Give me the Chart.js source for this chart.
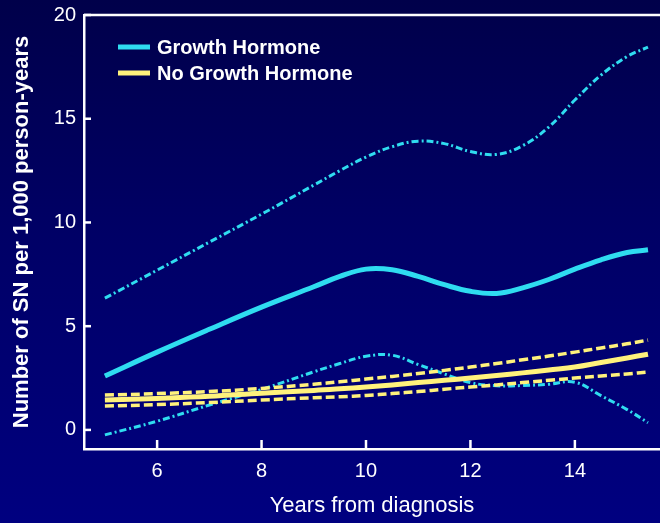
<!DOCTYPE html>
<html>
<head>
<meta charset="utf-8">
<script src="https://cdn.jsdelivr.net/npm/chart.js@4"></script>
<style>
  html, body { margin: 0; padding: 0; }
  body { background: linear-gradient(#00004a, #000066 45%, #000080); }
  #wrap { width: 660px; height: 523px; position: relative; }
</style>
</head>
<body>
<div id="wrap"><canvas id="chart"></canvas></div>
<script>
// years from diagnosis where each curve was sampled
let years = [5, 6, 7, 8, 9, 9.5, 10, 10.5, 11, 11.5, 12, 12.5, 13, 13.5, 14, 14.5, 15, 15.4];

// growth hormone: rate and its confidence band
let ghRate  = [2.6, 3.75, 4.85, 5.92, 6.9, 7.4, 7.75, 7.72, 7.4, 7.0, 6.68, 6.58, 6.85, 7.25, 7.75, 8.2, 8.55, 8.68];
let ghUpper = [6.35, 7.7, 9.05, 10.4, 11.8, 12.5, 13.15, 13.65, 13.92, 13.8, 13.42, 13.28, 13.7, 14.6, 15.9, 17.1, 18.0, 18.45];
let ghLower = [-0.24, 0.42, 1.2, 1.95, 2.8, 3.2, 3.55, 3.6, 3.15, 2.7, 2.28, 2.13, 2.14, 2.2, 2.3, 1.65, 0.98, 0.35];

// no growth hormone
let noRate  = [1.44, 1.52, 1.62, 1.77, 1.9, 1.98, 2.07, 2.17, 2.28, 2.39, 2.5, 2.62, 2.75, 2.89, 3.03, 3.25, 3.47, 3.65];
let noUpper = [1.68, 1.75, 1.85, 2.0, 2.2, 2.32, 2.45, 2.58, 2.72, 2.87, 3.03, 3.2, 3.38, 3.56, 3.75, 3.95, 4.15, 4.33];
let noLower = [1.15, 1.22, 1.32, 1.44, 1.55, 1.6, 1.66, 1.75, 1.85, 1.96, 2.07, 2.17, 2.28, 2.39, 2.5, 2.6, 2.7, 2.79];

let xTicks = [6, 8, 10, 12, 14];
let yTicks = [0, 5, 10, 15, 20];
let legendLabels = ["Growth Hormone", "No Growth Hormone"];

const CYAN = "#2fdcf0";
const YELLOW = "#fff27c";
const FONT = "'Liberation Sans', Arial, sans-serif";

function pts(vals) {
    return vals.map((v, i) => ({ x: years[i], y: v }));
}

function line(label, vals, color, width, dash) {
    return {
        label: label,
        data: pts(vals),
        borderColor: color,
        borderWidth: width,
        borderDash: dash || [],
        pointRadius: 0,
        fill: false,
        tension: 0.4,
        borderCapStyle: "butt"
    };
}

// inner tick marks, top frame line and the legend box
const frame = {
    id: "frame",
    afterDraw(chart) {
        let ctx = chart.ctx;
        let area = chart.chartArea;
        let xs = chart.scales.x, ys = chart.scales.y;
        ctx.save();
        ctx.strokeStyle = "#ffffff";
        ctx.lineWidth = 2.5;
        ctx.beginPath();
        ctx.moveTo(area.left, area.top);
        ctx.lineTo(area.right, area.top);
        ctx.stroke();

        yTicks.forEach(v => {
            let y = ys.getPixelForValue(v);
            ctx.beginPath();
            ctx.moveTo(area.left, y);
            ctx.lineTo(area.left + 7, y);
            ctx.stroke();
        });
        xTicks.forEach(v => {
            let x = xs.getPixelForValue(v);
            ctx.beginPath();
            ctx.moveTo(x, area.bottom);
            ctx.lineTo(x, area.bottom - 9);
            ctx.stroke();
        });

        // legend
        let colors = [CYAN, YELLOW];
        ctx.font = "bold 20px " + FONT;
        ctx.textBaseline = "middle";
        legendLabels.forEach((t, i) => {
            let y = 47 + i * 26;
            ctx.strokeStyle = colors[i];
            ctx.lineWidth = 5;
            ctx.beginPath();
            ctx.moveTo(118, y);
            ctx.lineTo(150, y);
            ctx.stroke();
            ctx.fillStyle = "#ffffff";
            ctx.fillText(t, 157, y + 1);
        });
        ctx.restore();
    }
};

new Chart(document.getElementById("chart"), {
    type: "line",
    data: {
        datasets: [
            line("No Growth Hormone upper", noUpper, YELLOW, 3.5, [9, 4]),
            line("No Growth Hormone lower", noLower, YELLOW, 3.5, [9, 4]),
            line("No Growth Hormone", noRate, YELLOW, 5),
            line("Growth Hormone upper", ghUpper, CYAN, 3, [7, 3, 2, 3]),
            line("Growth Hormone lower", ghLower, CYAN, 3, [7, 3, 2, 3]),
            line("Growth Hormone", ghRate, CYAN, 5)
        ]
    },
    options: {
        responsive: true,
        maintainAspectRatio: false,
        animation: false,
        layout: { padding: { top: 15, right: 0, left: 0, bottom: 0 } },
        plugins: {
            legend: { display: false },
            tooltip: { enabled: false }
        },
        scales: {
            x: {
                type: "linear",
                min: 4.6,
                max: 15.63,
                grid: { display: false, drawTicks: false },
                border: { display: true, color: "#ffffff", width: 2.5 },
                afterBuildTicks: s => { s.ticks = xTicks.map(v => ({ value: v })); },
                afterFit: s => { s.height = 74; },
                ticks: {
                    color: "#ffffff",
                    padding: 10,
                    maxRotation: 0,
                    font: { family: FONT, size: 20 }
                },
                title: {
                    display: true,
                    text: "Years from diagnosis",
                    color: "#ffffff",
                    padding: { top: 0, bottom: 4 },
                    font: { family: FONT, size: 22 }
                }
            },
            y: {
                min: -0.92,
                max: 20,
                grid: { display: false, drawTicks: false },
                border: { display: true, color: "#ffffff", width: 2.5 },
                afterBuildTicks: s => { s.ticks = yTicks.map(v => ({ value: v })); },
                afterFit: s => {
                    s.width = 84;
                    s.paddingTop = 0;
                    s.paddingBottom = 0;
                },
                ticks: {
                    color: "#ffffff",
                    padding: 8,
                    font: { family: FONT, size: 20 }
                },
                title: {
                    display: true,
                    text: "Number of SN per 1,000 person-years",
                    color: "#ffffff",
                    padding: { top: 9, bottom: 0 },
                    font: { family: FONT, size: 22, weight: "bold" }
                }
            }
        }
    },
    plugins: [frame]
});
</script>
</body>
</html>
